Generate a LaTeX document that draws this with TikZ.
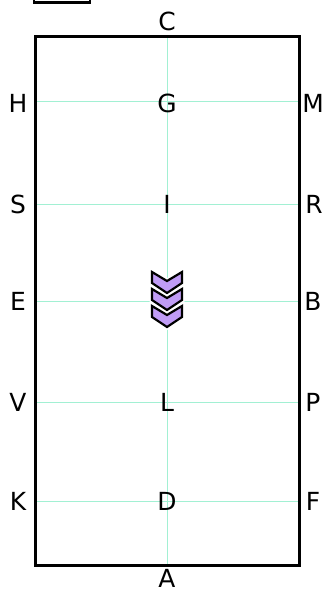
\documentclass[tikz,border=0pt]{standalone}
\usepackage{fontspec}
\setmainfont{DejaVu Sans}
\definecolor{gridmint}{HTML}{A2F0D3}
\definecolor{chevpurple}{HTML}{C09CF5}
\tikzset{
  lbl/.style={font=\fontsize{25}{25}\selectfont, inner sep=0pt, anchor=center},
  gridline/.style={draw=gridmint, line width=1bp},
  frame/.style={draw=black, line width=3bp},
  chev/.style={draw=black, fill=chevpurple, line width=2.2bp, line join=miter}
}
\begin{document}
\begin{tikzpicture}[x=1bp,y=-1bp]
\useasboundingbox (0,0) rectangle (323,593);
% small partially visible box at top
\draw[draw=black, line width=2.6bp] (34,-10) rectangle (90,2.5);
% grid coordinates
\coordinate (t) at (167.5,37);
\coordinate (b) at (167.5,565);
\foreach \n/\y in {1/101.5,2/204.5,3/301.5,4/402.5,5/501.5}{
  \coordinate (l\n) at (35,\y);
  \coordinate (r\n) at (299,\y);
  \draw[gridline] (l\n) -- (r\n);
}
\draw[gridline] (t) -- (b);
% frame
\draw[frame] (35,37) rectangle (299,565);
% labels
\node[lbl] (C) at (167,21) {C};
\node[lbl] (A) at (167,578) {A};
\node[lbl] (H) at (18,103) {H};
\node[lbl] (G) at (167,103) {G};
\node[lbl] (M) at (313,103) {M};
\node[lbl] (S) at (18,204) {S};
\node[lbl] (I) at (167,204) {I};
\node[lbl] (R) at (314,204) {R};
\node[lbl] (E) at (18,301) {E};
\node[lbl] (B) at (313,301) {B};
\node[lbl] (V) at (18,402) {V};
\node[lbl] (L) at (167,402) {L};
\node[lbl] (P) at (313,402) {P};
\node[lbl] (K) at (18,501) {K};
\node[lbl] (D) at (167,501) {D};
\node[lbl] (F) at (313,501) {F};
% chevrons
\foreach \t in {272,289,306}{
  \draw[draw=white, line width=5bp] (152,\t) -- (167,\t+9) -- (182,\t) -- (182,\t+11) -- (167,\t+21) -- (152,\t+11) -- cycle;
  \draw[chev] (152,\t) -- (167,\t+9) -- (182,\t) -- (182,\t+11) -- (167,\t+21) -- (152,\t+11) -- cycle;
}
\end{tikzpicture}
\end{document}
